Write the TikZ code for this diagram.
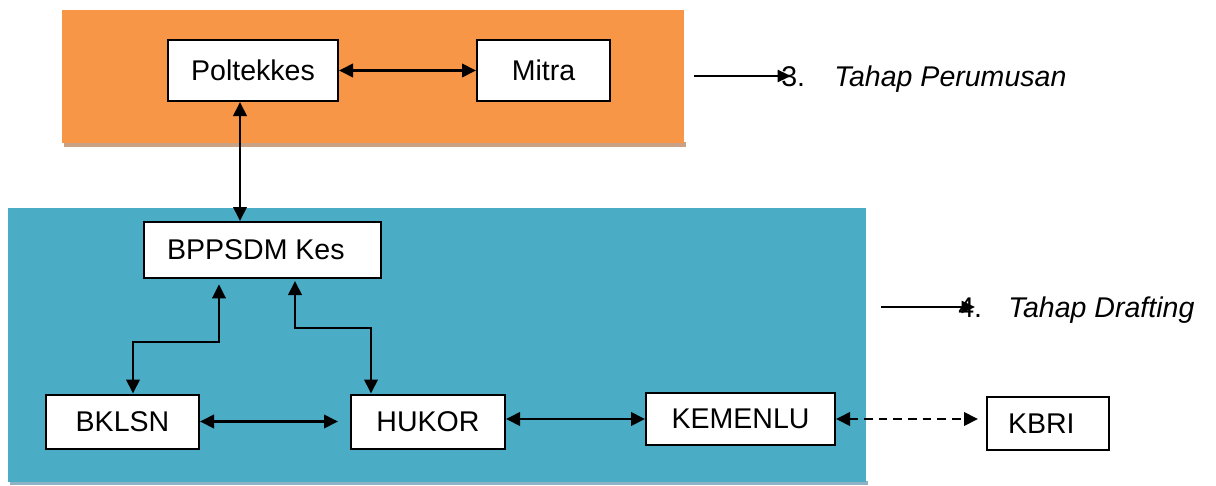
\documentclass[tikz,border=0pt]{standalone}
\usepackage{fontspec}
\setmainfont{Liberation Sans}
\usetikzlibrary{arrows.meta}
\definecolor{orangebg}{HTML}{F79646}
\definecolor{orangeshadow}{HTML}{C9A286}
\definecolor{bluebg}{HTML}{4BACC6}
\definecolor{blueshadow}{HTML}{8FB3C4}
\tikzset{
  box/.style={draw=black, line width=1.5pt, fill=white, inner sep=0pt, font=\fontsize{21.4pt}{25pt}\selectfont},
  link/.style={line width=2pt, {Triangle[length=10.5pt,width=10pt]}-{Triangle[length=10.5pt,width=10pt]}},
  onelink/.style={line width=1.5pt, -{Triangle[length=10pt,width=9pt]}},
  dlink/.style={link, dash pattern=on 6.5pt off 4.5pt},
  lbl/.style={inner sep=0pt, anchor=base west, font=\fontsize{21.4pt}{25pt}\selectfont}
}
\begin{document}
\begin{tikzpicture}[x=0.75pt,y=-0.75pt]
\useasboundingbox (0,0) rectangle (1216,485);
% backgrounds
\fill[orangeshadow] (64,142) rectangle (686,147);
\fill[orangebg] (62,10) rectangle (684,143);
\fill[blueshadow] (10,481) rectangle (868,485);
\fill[bluebg] (8,208) rectangle (866,482);

% nodes
\node[box, minimum width=127.5pt, minimum height=45.75pt] (polt) at (253,70.5) {Poltekkes};
\node[box, minimum width=99.75pt, minimum height=45.75pt] (mitra) at (543.5,70.5) {Mitra};
\node[box, minimum width=177.75pt, minimum height=42pt] (bpp) at (262.5,250) {\hspace*{-10pt}BPPSDM Kes};
\node[box, minimum width=114.75pt, minimum height=40.5pt] (bklsn) at (122.5,421.5) {BKLSN};
\node[box, minimum width=115.5pt, minimum height=40.5pt] (hukor) at (428,421.5) {HUKOR};
\node[box, minimum width=141.75pt, minimum height=39pt] (kemenlu) at (740.5,419) {KEMENLU};
\node[box, minimum width=91.5pt, minimum height=39.75pt] (kbri) at (1048,423.5) {\raisebox{-4pt}{KBRI}\hspace*{10pt}};

% helper coordinates
\coordinate (cv) at (240,0);
\coordinate (cl) at (219,0);
\coordinate (cll) at (133,0);
\coordinate (cr) at (295,0);
\coordinate (crr) at (371,0);
\coordinate (lbend) at (219,342);
\coordinate (lbend2) at (133,342);
\coordinate (rbend) at (295,328);
\coordinate (rbend2) at (371,328);

% connectors
\draw[link] (polt.east) -- (mitra.west);
\draw[link] (polt.south -| cv) -- (bpp.north -| cv);
\draw[link, shorten <=4pt] (bpp.south -| cl) -- (lbend) -- (lbend2) -- (bklsn.north -| cll);
\draw[link, shorten <=1.5pt] (bpp.south -| cr) -- (rbend) -- (rbend2) -- (hukor.north -| crr);
\draw[link, shorten >=9pt] (bklsn.east) -- (bklsn.east -| hukor.west);
\draw[link] (hukor.east |- kemenlu.west) -- (kemenlu.west);
\draw[dlink, shorten >=6pt] (kemenlu.east) -- (kemenlu.east -| kbri.west);

% stage labels
\coordinate (s3a) at (694,76);
\coordinate (s3b) at (791,76);
\node[lbl] (n3) at (781,86) {3.};
\node[lbl] (t3) at (834,86) {\itshape Tahap Perumusan};
\draw[onelink] (s3a) -- (s3b);

\coordinate (s4a) at (881,307);
\coordinate (s4b) at (975,307);
\node[lbl] (n4) at (958,317) {4.};
\node[lbl] (t4) at (1008,317) {\itshape Tahap Drafting};
\draw[onelink] (s4a) -- (s4b);
\end{tikzpicture}
\end{document}
